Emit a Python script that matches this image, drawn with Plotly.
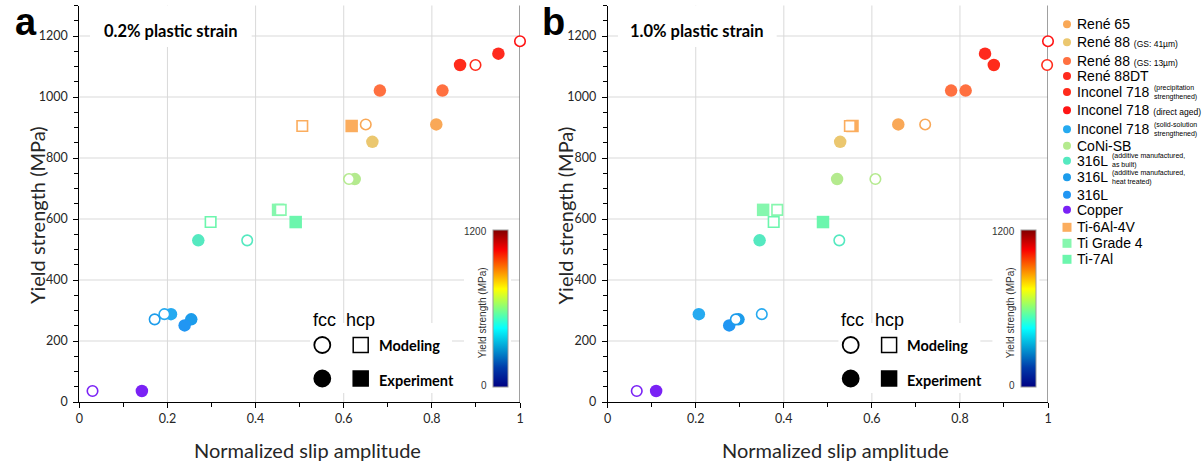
import plotly.graph_objects as go

W, H = 1202, 464


def px(x):
    return x / W


def py(y):
    return 1 - y / H


# ---- materials -------------------------------------------------------------
materials = ["René 65", "René 88", "René 88", "René 88DT", "Inconel 718", "Inconel 718",
             "Inconel 718", "CoNi-SB", "316L", "316L", "316L", "Copper",
             "Ti-6Al-4V", "Ti Grade 4", "Ti-7Al"]
material_notes = ["", "(GS: 41µm)", "(GS: 13µm)", "", "(precipitation<br>strengthened)",
                  "(direct aged)", "(solid-solution<br>strengthened)", "",
                  "(additive manufactured,<br>as built)",
                  "(additive manufactured,<br>heat treated)", "", "", "", "", ""]
crystal = ["fcc"] * 12 + ["hcp"] * 3
material_colors = ["#F9A857", "#EBC76F", "#FF7040", "#FF2A1E", "#FF2B1B", "#FF1414",
                   "#26AAF0", "#B4EA8E", "#55E9C0", "#1C9CEB", "#2196F3", "#7A22F5",
                   "#FBAD5E", "#86F7AE", "#6CF6AD"]
yield_strength = [910, 853, 1021, 1142, 1105, 1183, 288, 731, 530, 271, 251, 36, 905, 630, 590]

# normalized slip amplitude, one list per material (experiment / modeling)
slip_exp_02 = [[0.810], [0.665], [0.682, 0.824], [0.951], [0.864], [], [0.208], [0.625],
               [0.270], [0.254], [0.239], [0.142], [0.618], [0.451], [0.491]]
slip_mod_02 = [[0.650], [], [], [], [0.899], [1.0], [0.193], [0.612],
               [0.381], [0.171], [], [0.030], [0.506], [0.457], [0.298]]
slip_exp_10 = [[0.660], [0.528], [0.780, 0.813], [0.857], [0.877], [], [0.207], [0.521],
               [0.345], [0.297], [0.276], [0.110], [0.556], [0.353], [0.489]]
slip_mod_10 = [[0.721], [], [], [], [0.998], [1.0], [0.350], [0.608],
               [0.526], [0.291], [], [0.066], [0.550], [0.385], [0.377]]

panel_titles = ["0.2% plastic strain", "1.0% plastic strain"]
panel_letters = ["a", "b"]
x_grid = [0.2, 0.4, 0.6, 0.8]
y_grid = [200, 400, 600, 800, 1000, 1200]

# ---- geometry (pixels) -----------------------------------------------------
x_left = [79.3, 607.7]
x_right = [520.0, 1048.0]
y_bottom, y_top = 402.0, 5.5

CAL = "Lato"
ARIAL = "Liberation Sans"
GRID = "#d9d9d9"

fig = go.Figure()


def add_points(slips_exp, slips_mod, xa, ya):
    groups = [(slips_exp, "fcc", "circle", True), (slips_exp, "hcp", "square", True),
              (slips_mod, "fcc", "circle", False), (slips_mod, "hcp", "square", False)]
    for slips, lat, sym, filled in groups:
        xs, ys, cs = [], [], []
        for i, vals in enumerate(slips):
            if crystal[i] != lat:
                continue
            for v in vals:
                xs.append(v)
                ys.append(yield_strength[i])
                cs.append(material_colors[i])
        if not xs:
            continue
        if filled:
            marker = dict(symbol=sym, size=12.5, color=cs, line=dict(width=0))
        else:
            marker = dict(symbol=sym, size=10.5, color="white", line=dict(width=1.6, color=cs))
        fig.add_trace(go.Scatter(x=xs, y=ys, mode="markers", marker=marker,
                                 xaxis=xa, yaxis=ya, cliponaxis=False,
                                 showlegend=False, hoverinfo="skip"))


add_points(slip_exp_02, slip_mod_02, "x", "y")
add_points(slip_exp_10, slip_mod_10, "x2", "y2")

jet = [[0.0, "rgb(0,0,131)"], [0.125, "rgb(0,60,170)"], [0.375, "rgb(5,255,255)"],
       [0.625, "rgb(255,255,0)"], [0.875, "rgb(250,0,0)"], [1.0, "rgb(128,0,0)"]]

cb_left = [492.7, 1020.7]
cb_top, cb_bot = 230.0, 387.3
for k, (xa, ya) in enumerate([("x", "y"), ("x2", "y2")]):
    fig.add_trace(go.Scatter(
        x=[None], y=[None], mode="markers", xaxis=xa, yaxis=ya, showlegend=False,
        marker=dict(color=[0], cmin=0, cmax=1200, colorscale=jet, showscale=True,
                    colorbar=dict(x=px(cb_left[k]), xanchor="left", xpad=0, ypad=0,
                                  y=py(cb_bot), yanchor="bottom",
                                  len=(cb_bot - cb_top) / H, lenmode="fraction",
                                  thickness=15, thicknessmode="pixels",
                                  outlinewidth=1, outlinecolor="#9a9a9a",
                                  showticklabels=False, ticks=""))))

axis_font = dict(family=CAL, size=12.5, color="#262626")
common_x = dict(range=[0, 1], tick0=0, dtick=0.2, showgrid=False, automargin=False,
                zeroline=False, showline=True, linecolor="black", linewidth=1,
                ticks="outside", ticklen=5, tickcolor="black", tickfont=axis_font,
                minor=dict(dtick=0.1, ticks="outside", ticklen=4, tickcolor="black",
                           showgrid=False))
common_y = dict(range=[0, 1300], tick0=0, dtick=200, showgrid=False, automargin=False,
                zeroline=False, showline=True, linecolor="black", linewidth=1,
                ticks="outside", ticklen=5, tickcolor="black", tickfont=axis_font,
                ticklabelstandoff=3,
                minor=dict(dtick=50, ticks="outside", ticklen=4, tickcolor="black",
                           showgrid=False),
                domain=[py(y_bottom), py(y_top)])

fig.update_layout(
    width=W, height=H, margin=dict(l=0, r=0, t=0, b=0, autoexpand=False),
    plot_bgcolor="white", paper_bgcolor="white", showlegend=False,
    xaxis=dict(common_x, domain=[px(x_left[0]), px(x_right[0])], anchor="y"),
    yaxis=dict(common_y, anchor="x"),
    xaxis2=dict(common_x, domain=[px(x_left[1]), px(x_right[1])], anchor="y2"),
    yaxis2=dict(common_y, anchor="x2"),
)

shapes = []
annotations = []


def white_box(x0, x1, y0, y1):
    """White patch drawn over the grid lines (pixel coords)."""
    shapes.append(dict(type="rect", xref="paper", yref="paper",
                       x0=px(x0), x1=px(x1), y0=py(y1), y1=py(y0),
                       fillcolor="white", line=dict(width=0), layer="below"))


# grid lines first, below everything else
for k in range(2):
    xa = "x" if k == 0 else "x2"
    ya = "y" if k == 0 else "y2"
    for gx in x_grid:
        shapes.append(dict(type="line", xref=xa, yref=ya + " domain", x0=gx, x1=gx,
                           y0=0, y1=1, line=dict(color=GRID, width=1), layer="below"))
    for gy in y_grid:
        shapes.append(dict(type="line", xref=xa + " domain", yref=ya, x0=0, x1=1,
                           y0=gy, y1=gy, line=dict(color=GRID, width=1), layer="below"))

for k in range(2):
    xa = "x" if k == 0 else "x2"
    ya = "y" if k == 0 else "y2"
    off = x_left[k] - x_left[0]
    # right frame line
    shapes.append(dict(type="line", xref=xa, yref=ya + " domain",
                       x0=1, x1=1, y0=0, y1=1, line=dict(color="#808080", width=1.5),
                       layer="below"))
    # title box
    bx0, bx1 = (90, 251.7) if k == 0 else (618, 776.7)
    white_box(bx0, bx1, y_top, 47)
    annotations.append(dict(x=px((bx0 + bx1) / 2), y=py(31), xref="paper", yref="paper",
                            text=panel_titles[k], showarrow=False,
                            font=dict(family=CAL, size=16.5, color="black", weight=700),
                            xanchor="center", yanchor="middle"))
    # panel letter
    lx = 26 if k == 0 else 553
    annotations.append(dict(x=px(lx), y=py(22), xref="paper", yref="paper",
                            text=panel_letters[k], showarrow=False,
                            font=dict(family=ARIAL, size=38, color="black", weight=700),
                            xanchor="center", yanchor="middle"))
    # axis titles
    annotations.append(dict(x=px(37 + off), y=py(215), xref="paper", yref="paper",
                            text="Yield strength (MPa)", textangle=-90, showarrow=False,
                            font=dict(family=CAL, size=20, color="#262626"),
                            xanchor="center", yanchor="middle"))
    annotations.append(dict(x=px(307 + off), y=py(450), xref="paper", yref="paper",
                            text="Normalized slip amplitude", showarrow=False,
                            font=dict(family=CAL, size=20, color="#262626"),
                            xanchor="center", yanchor="middle"))
    # white backgrounds for the key and the colour bar
    white_box(310 + off, 452 + off, 323, 393)
    white_box(464 + off, 511 + off, 222, 395)
    # fcc / hcp key
    cx, sx = 322.3 + off, 360.7 + off
    for yy, filled in ((345, False), (378.5, True)):
        shapes.append(dict(type="circle", xref="paper", yref="paper",
                           x0=px(cx - 8), x1=px(cx + 8), y0=py(yy + 8), y1=py(yy - 8),
                           fillcolor="black" if filled else "white",
                           line=dict(color="black", width=1.8), layer="above"))
        shapes.append(dict(type="rect", xref="paper", yref="paper",
                           x0=px(sx - 7.5), x1=px(sx + 7.5), y0=py(yy + 7.5), y1=py(yy - 7.5),
                           fillcolor="black" if filled else "white",
                           line=dict(color="black", width=1.5), layer="above"))
    annotations.append(dict(x=px(cx + 2), y=py(320), xref="paper", yref="paper", text="fcc",
                            showarrow=False, font=dict(family=ARIAL, size=18, color="black"),
                            xanchor="center", yanchor="middle"))
    annotations.append(dict(x=px(sx), y=py(320), xref="paper", yref="paper", text="hcp",
                            showarrow=False, font=dict(family=ARIAL, size=18, color="black"),
                            xanchor="center", yanchor="middle"))
    for yy, label in ((345, "Modeling"), (380, "Experiment")):
        annotations.append(dict(x=px(377 + off), y=py(yy), xref="paper", yref="paper",
                                text=label, showarrow=False,
                                font=dict(family=CAL, size=14.5, color="black", weight=700),
                                xanchor="left", yanchor="middle"))
    # colour bar labels
    cbl = cb_left[k]
    annotations.append(dict(x=px(cbl - 4), y=py(cb_top + 1.5), xref="paper", yref="paper",
                            text="1200", showarrow=False,
                            font=dict(family=ARIAL, size=10, color="#333"),
                            xanchor="right", yanchor="middle"))
    annotations.append(dict(x=px(cbl - 4), y=py(cb_bot - 1.5), xref="paper", yref="paper",
                            text="0", showarrow=False,
                            font=dict(family=ARIAL, size=10, color="#333"),
                            xanchor="right", yanchor="middle"))
    annotations.append(dict(x=px(cbl - 10.5), y=py(313), xref="paper", yref="paper",
                            text="Yield strength (MPa)", textangle=-90, showarrow=False,
                            font=dict(family=ARIAL, size=10, color="#333"),
                            xanchor="center", yanchor="middle"))

# material legend on the right
leg_y = [24.3, 42.3, 61, 76, 92, 110.3, 129.3, 145.7, 160.7, 177.3, 194.7, 209.7,
         227.3, 243.3, 259.3]
mx, tx = 1067, 1075
for i, name in enumerate(materials):
    yy = leg_y[i]
    if crystal[i] == "fcc":
        shapes.append(dict(type="circle", xref="paper", yref="paper",
                           x0=px(mx - 4), x1=px(mx + 4), y0=py(yy + 4), y1=py(yy - 4),
                           fillcolor=material_colors[i], line=dict(width=0)))
    else:
        shapes.append(dict(type="rect", xref="paper", yref="paper",
                           x0=px(mx - 4.5), x1=px(mx + 4.5), y0=py(yy + 4.5), y1=py(yy - 4.5),
                           fillcolor=material_colors[i], line=dict(width=0)))
    note = material_notes[i]
    if note and "<br>" not in note:
        text = name + " <span style='font-size:8.5px'>" + note + "</span>"
    else:
        text = name
    annotations.append(dict(x=px(tx), y=py(yy), xref="paper", yref="paper", text=text,
                            showarrow=False, font=dict(family=ARIAL, size=14, color="black"),
                            xanchor="left", yanchor="middle"))
    if "<br>" in note:
        nx = 1152 if name == "Inconel 718" else 1110
        annotations.append(dict(x=px(nx), y=py(yy), xref="paper", yref="paper",
                                text=note, showarrow=False, align="left",
                                font=dict(family=ARIAL, size=7, color="black"),
                                xanchor="left", yanchor="middle"))

fig.update_layout(shapes=shapes, annotations=annotations)
fig.write_html("out.html")
